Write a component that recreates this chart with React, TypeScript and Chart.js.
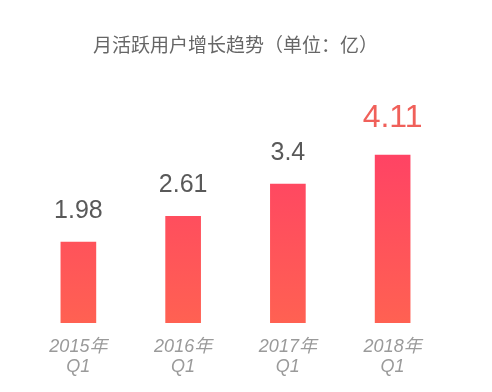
import React, { useEffect, useRef } from "react";
import { Chart, registerables } from "chart.js";

Chart.register(...registerables);

const titleText = "月活跃用户增长趋势（单位：亿）";
const categories: string[][] = [
  ["2015年", "Q1"],
  ["2016年", "Q1"],
  ["2017年", "Q1"],
  ["2018年", "Q1"],
];
const values: number[] = [1.98, 2.61, 3.4, 4.11];
const valueLabels: string[] = ["1.98", "2.61", "3.4", "4.11"];

const labelPlugin = {
  id: "valueLabels",
  afterDatasetsDraw(chart: any) {
    const ctx = chart.ctx;
    const meta = chart.getDatasetMeta(0);
    ctx.save();
    ctx.textAlign = "center";
    ctx.textBaseline = "alphabetic";
    meta.data.forEach((bar: any, i: number) => {
      const last = i === values.length - 1;
      ctx.fillStyle = last ? "#f0605a" : "#595959";
      ctx.font = last
        ? "32px 'Liberation Sans', 'Noto Sans', sans-serif"
        : "25px 'Liberation Sans', 'Noto Sans', sans-serif";
      ctx.fillText(valueLabels[i], bar.x, bar.y - (last ? 28 : 24));
    });
    ctx.restore();
  },
};

export default function App() {
  const ref = useRef<HTMLCanvasElement | null>(null);
  useEffect(() => {
    document.body.style.margin = "0";
    document.body.style.background = "#fff";
    const canvas = ref.current!;
    const chart = new Chart(canvas, {
      type: "bar",
      data: {
        labels: categories,
        datasets: [
          {
            data: values,
            barThickness: 35,
            backgroundColor: (c: any) => {
              const area = c.chart.chartArea;
              if (!area) return "#ff5060";
              const g = c.chart.ctx.createLinearGradient(0, area.top, 0, area.bottom);
              g.addColorStop(0, "#ff3d68");
              g.addColorStop(1, "#ff6152");
              return g;
            },
          },
        ],
      },
      options: {
        responsive: false,
        animation: false,
        layout: { padding: { left: 26, right: 47, top: 0, bottom: 9 } },
        plugins: {
          legend: { display: false },
          tooltip: { enabled: false },
          title: {
            display: true,
            text: titleText,
            color: "#666666",
            font: {
              size: 19,
              family: "'Noto Sans CJK SC', sans-serif",
              weight: "normal",
              lineHeight: 1.2,
            },
            padding: { top: 33, bottom: 63 },
          },
        },
        scales: {
          x: {
            grid: { display: false },
            border: { display: false },
            ticks: {
              padding: 6,
              color: "#9a9a9a",
              font: {
                size: 18,
                style: "italic",
                family: "'Liberation Sans', 'Noto Sans CJK SC', sans-serif",
                lineHeight: "20px",
              },
            },
          },
          y: {
            display: false,
            min: 0,
            max: 5,
          },
        },
      },
      plugins: [labelPlugin],
    });
    return () => chart.destroy();
  }, []);
  return (
    <div style={{ width: 492, height: 392 }}>
      <canvas ref={ref} width={492} height={392} style={{ display: "block" }} />
    </div>
  );
}
